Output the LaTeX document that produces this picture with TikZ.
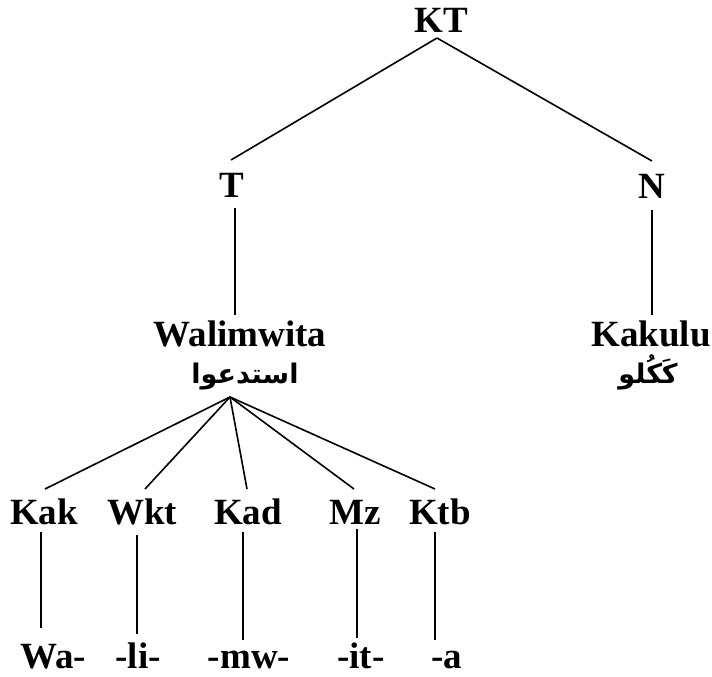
\documentclass[tikz,border=0pt]{standalone}
\usepackage{fontspec}
\setmainfont{Liberation Serif}
\newfontfamily\arabicfont[Script=Arabic]{DejaVu Sans}
\TeXXeTstate=1
\begin{document}
\begin{tikzpicture}[x=1pt,y=-1pt,
  lbl/.style={inner sep=0pt, outer sep=0pt, anchor=base,
    text height=25pt, text depth=0pt,
    font=\fontsize{37}{40}\bfseries\selectfont},
  ar/.style={inner sep=0pt, outer sep=0pt, anchor=base,
    font=\fontsize{27}{30}\arabicfont\bfseries},
  edge/.style={line width=1.6pt, line cap=butt}]
\useasboundingbox (0,0) rectangle (712,677);

% upper levels
\node[lbl] (KT) at (441,33) {KT};
\node[lbl] (T) at (232,197) {T};
\node[lbl] (N) at (652,198) {N};
\node[lbl] (Wal) at (240,346) {Walimwita};
\node[ar] (WalAr) at (245,383) {\beginR استدعوا\endR};
\node[lbl] (Kak0) at (651,346) {Kakulu};
\node[ar] (KakAr) at (648,383) {\beginR كَكُلو\endR};

% morpheme labels
\node[lbl] (Kak) at (44,524) {Kak};
\node[lbl] (Wkt) at (142,524) {Wkt};
\node[lbl] (Kad) at (248,524) {Kad};
\node[lbl] (Mz)  at (355,524) {Mz};
\node[lbl] (Ktb) at (440,524) {Ktb};

% morphemes
\node[lbl] (Wa) at (53,668) {Wa-};
\node[lbl] (li) at (138,668) {-li-};
\node[lbl] (mw) at (249,668) {-mw-};
\node[lbl] (it) at (361,668) {-it-};
\node[lbl] (a)  at (447,668) {-a};

\coordinate (fan) at (230,397);

% branches
\draw[edge] ([xshift=-4pt,yshift=-5pt]KT.south) -- ([xshift=-1pt,yshift=12pt]T.north);
\draw[edge] ([xshift=-4pt,yshift=-5pt]KT.south) -- ([yshift=12pt]N.north);
\draw[edge] ([xshift=3pt,yshift=-11pt]T.south) -- ([xshift=3pt,yshift=6pt]T.south |- Wal.north);
\draw[edge] ([yshift=-12pt]N.south) -- ([yshift=6pt]N.south |- Kak0.north);

\draw[edge] (fan) -- ([xshift=1pt,yshift=10pt]Kak.north);
\draw[edge] (fan) -- ([xshift=3pt,yshift=10pt]Wkt.north);
\draw[edge] (fan) -- ([xshift=-1pt,yshift=10pt]Kad.north);
\draw[edge] (fan) -- ([xshift=-1pt,yshift=10pt]Mz.north);
\draw[edge] (fan) -- ([xshift=-5pt,yshift=10pt]Ktb.north);

\draw[edge] ([xshift=-3pt,yshift=-8pt]Kak.south) -- ([xshift=-3pt,yshift=15pt]Kak.south |- Wa.north);
\draw[edge] ([xshift=-5pt,yshift=-11pt]Wkt.south) -- ([xshift=-5pt,yshift=9pt]Wkt.south |- li.north);
\draw[edge] ([xshift=-5pt,yshift=-8pt]Kad.south) -- ([xshift=-5pt,yshift=3pt]Kad.south |- mw.north);
\draw[edge] ([xshift=2pt,yshift=-5pt]Mz.south) -- ([xshift=2pt,yshift=5pt]Mz.south |- it.north);
\draw[edge] ([xshift=-5pt,yshift=-8pt]Ktb.south) -- ([xshift=-5pt,yshift=3pt]Ktb.south |- a.north);
\end{tikzpicture}
\end{document}
